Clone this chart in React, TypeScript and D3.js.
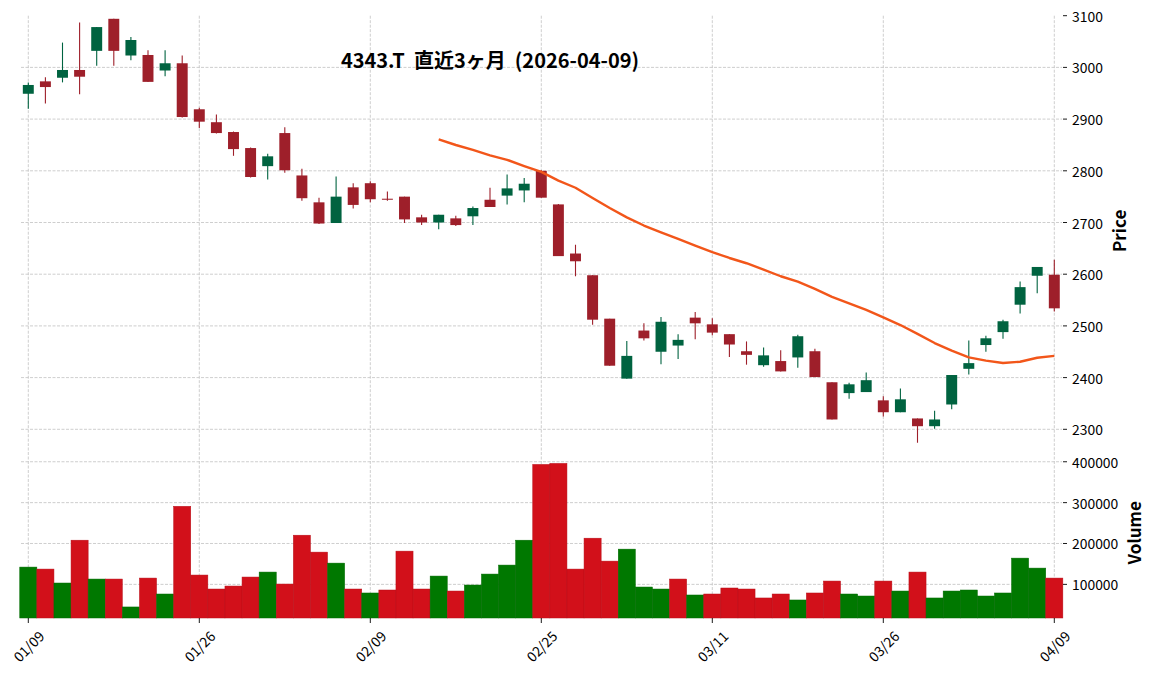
import React from "react";
import * as d3 from "d3";

// ---- Data ----
const dates = [
  "01/09","01/13","01/14","01/15","01/16","01/19","01/20","01/21","01/22","01/23",
  "01/26","01/27","01/28","01/29","01/30","02/02","02/03","02/04","02/05","02/06",
  "02/09","02/10","02/12","02/13","02/16","02/17","02/18","02/19","02/20","02/24",
  "02/25","02/26","02/27","03/02","03/03","03/04","03/05","03/06","03/09","03/10",
  "03/11","03/12","03/13","03/16","03/17","03/18","03/19","03/23","03/24","03/25",
  "03/26","03/27","03/30","03/31","04/01","04/02","04/03","04/06","04/07","04/08",
  "04/09",
];
const opens = [
  2949,2973,2980,2995,3032,3094,3023,3024,2994,3008,
  2919,2894,2875,2844,2809,2873,2791,2739,2699,2768,
  2776,2746,2750,2710,2700,2708,2712,2744,2752,2762,
  2800,2735,2640,2598,2514,2398,2491,2450,2462,2516,
  2503,2484,2451,2424,2432,2439,2451,2391,2370,2372,
  2356,2333,2321,2306,2348,2417,2463,2488,2541,2597,
  2599,
];
const highs = [
  2971,2981,3048,3087,3078,3094,3059,3033,3033,3023,
  2922,2909,2876,2845,2833,2884,2804,2748,2789,2776,
  2780,2760,2750,2715,2715,2713,2731,2767,2793,2786,
  2801,2736,2657,2598,2514,2471,2505,2517,2484,2527,
  2515,2484,2470,2458,2453,2483,2456,2391,2390,2410,
  2364,2379,2321,2336,2405,2472,2481,2512,2586,2614,
  2628,
];
const lows = [
  2920,2930,2971,2948,3003,3003,3014,2972,2983,2903,
  2883,2872,2829,2787,2783,2796,2742,2697,2699,2727,
  2739,2742,2699,2695,2687,2693,2695,2730,2735,2739,
  2748,2635,2596,2502,2423,2398,2472,2426,2436,2474,
  2482,2440,2425,2421,2412,2419,2401,2319,2359,2372,
  2325,2333,2274,2301,2339,2406,2450,2475,2524,2563,
  2528,
];
const closes = [
  2966,2962,2995,2982,3078,3032,3053,2972,3008,2904,
  2895,2873,2842,2788,2828,2801,2747,2698,2750,2734,
  2745,2744,2706,2700,2715,2695,2728,2730,2766,2775,
  2748,2635,2625,2512,2423,2442,2476,2508,2473,2505,
  2487,2464,2444,2443,2412,2480,2401,2319,2387,2395,
  2333,2358,2306,2319,2405,2428,2476,2509,2575,2614,
  2534,
];
const volumes = [
  142300,137400,103300,208100,113000,113000,44700,115400,76400,291000,
  122800,88600,95900,117900,130100,100800,220300,178900,152000,88600,
  78900,86200,181300,88600,120300,83700,98400,125200,147200,208100,
  393500,396000,137400,213000,156900,186200,93500,88600,113000,74000,
  76400,91100,88600,66700,76400,61800,78900,108100,76400,71500,
  108100,83700,130100,66700,83700,86200,71500,78900,164200,139800,
  115400,
];
const priceTicks = [2300, 2400, 2500, 2600, 2700, 2800, 2900, 3000, 3100];
const volumeTicks = [100000, 200000, 300000, 400000];
const xTickIndices = [0, 10, 20, 30, 40, 50, 60];
const chartTitle = "4343.T  直近3ヶ月  (2026-04-09)";
const MA_WINDOW = 25;

// ---- Styling ----
const FONT = "'Noto Sans CJK JP', 'Noto Sans', sans-serif";
const UP_CANDLE = "#006340";
const DOWN_CANDLE = "#9e1f2a";
const UP_VOL = "#007800";
const DOWN_VOL = "#d2101a";
const MA_COLOR = "#f2561a";
const GRID = "#c2c2c2";

export default function App() {
  const W = 1152, H = 675;
  const plotL = 21, plotR = 1062;
  const priceTop = 15.7, priceBottom = 446;
  const volTop = 447.5, volBottom = 618;

  const x = d3.scaleLinear().domain([0, dates.length - 1]).range([28.3, 1054.3]);
  const step = x(1) - x(0);
  const yP = d3.scaleLinear().domain([2267.7, 3100]).range([priceBottom, priceTop]);
  const yV = d3.scaleLinear().domain([17700, 434900]).range([volBottom, volTop]);

  const ma: [number, number][] = [];
  closes.forEach((_, i) => {
    if (i >= MA_WINDOW - 1) {
      ma.push([i, d3.mean(closes.slice(i - MA_WINDOW + 1, i + 1)) as number]);
    }
  });
  const maPath = d3
    .line<[number, number]>()
    .x((d) => x(d[0]))
    .y((d) => yP(d[1]))(ma) as string;

  const bodyW = step * 0.64;

  const volUp = volumes.map((_, i) =>
    i === 0 ? opens[0] < closes[0] : closes[i - 1] < closes[i]
  );

  return (
    <svg
      width={W}
      height={H}
      style={{ position: "absolute", left: 0, top: 0, background: "#fff" }}
      fontFamily={FONT}
    >
      {/* grids: price panel */}
      <g stroke={GRID} strokeWidth={0.8} strokeDasharray="3,1.5" fill="none">
        {priceTicks
          .filter((t) => yP(t) > priceTop + 1)
          .map((t) => (
            <line key={"pg" + t} x1={plotL} x2={plotR} y1={yP(t)} y2={yP(t)} />
          ))}
        {xTickIndices.map((i) => (
          <line key={"pv" + i} x1={x(i)} x2={x(i)} y1={priceTop} y2={priceBottom} />
        ))}
        {volumeTicks.map((t) => (
          <line key={"vg" + t} x1={plotL} x2={plotR} y1={yV(t)} y2={yV(t)} />
        ))}
        {xTickIndices.map((i) => (
          <line key={"vv" + i} x1={x(i)} x2={x(i)} y1={volTop} y2={volBottom} />
        ))}
      </g>

      {/* volume bars */}
      <g>
        {volumes.map((v, i) => (
          <rect
            key={"v" + i}
            x={x(i) - step / 2}
            y={yV(v)}
            width={step}
            height={volBottom - yV(v)}
            fill={volUp[i] ? UP_VOL : DOWN_VOL}
            stroke={volUp[i] ? "#006a00" : "#b80e18"}
            strokeWidth={0.5}
          />
        ))}
      </g>

      {/* candles */}
      <g>
        {opens.map((o, i) => {
          const c = closes[i];
          const up = c >= o;
          const col = up ? UP_CANDLE : DOWN_CANDLE;
          const top = yP(Math.max(o, c));
          const bot = yP(Math.min(o, c));
          return (
            <g key={"c" + i}>
              <line
                x1={x(i)}
                x2={x(i)}
                y1={yP(highs[i])}
                y2={yP(lows[i])}
                stroke={col}
                strokeWidth={1.1}
              />
              <rect
                x={x(i) - bodyW / 2}
                y={top}
                width={bodyW}
                height={Math.max(1, bot - top)}
                fill={col}
              />
            </g>
          );
        })}
      </g>

      {/* moving average */}
      <path d={maPath} fill="none" stroke={MA_COLOR} strokeWidth={2.4} strokeLinejoin="round" />

      {/* title */}
      <text
        x={490}
        y={68}
        textAnchor="middle"
        fontSize={20}
        fontWeight="bold"
        fill="#000"
        style={{ whiteSpace: "pre" }}
      >
        {chartTitle}
      </text>

      {/* right axis ticks & labels */}
      <g fontSize={13.9} fill="#000">
        {priceTicks.map((t) => (
          <g key={"pt" + t}>
            <line x1={plotR + 1} x2={plotR + 5} y1={yP(t)} y2={yP(t)} stroke="#000" strokeWidth={0.9} />
            <text x={1072} y={yP(t)} dominantBaseline="central">
              {t}
            </text>
          </g>
        ))}
        {volumeTicks.map((t) => (
          <g key={"vt" + t}>
            <line x1={plotR + 1} x2={plotR + 5} y1={yV(t)} y2={yV(t)} stroke="#000" strokeWidth={0.9} />
            <text x={1072} y={yV(t)} dominantBaseline="central">
              {t}
            </text>
          </g>
        ))}
      </g>

      {/* x axis ticks & labels */}
      <g fontSize={13.9} fill="#000">
        {xTickIndices.map((i) => (
          <g key={"xt" + i}>
            <line x1={x(i)} x2={x(i)} y1={volBottom} y2={volBottom + 5} stroke="#000" strokeWidth={0.9} />
            <text
              transform={`translate(${x(i)},${646}) rotate(-45)`}
              textAnchor="middle"
              dominantBaseline="central"
            >
              {dates[i]}
            </text>
          </g>
        ))}
      </g>

      {/* axis titles */}
      <text
        transform={`translate(1118,${(priceTop + priceBottom) / 2}) rotate(-90)`}
        textAnchor="middle"
        dominantBaseline="central"
        fontSize={17}
        fontWeight="bold"
        fill="#000"
      >
        Price
      </text>
      <text
        transform={`translate(1133,${(volTop + volBottom) / 2}) rotate(-90)`}
        textAnchor="middle"
        dominantBaseline="central"
        fontSize={17}
        fontWeight="bold"
        fill="#000"
      >
        Volume
      </text>
    </svg>
  );
}
